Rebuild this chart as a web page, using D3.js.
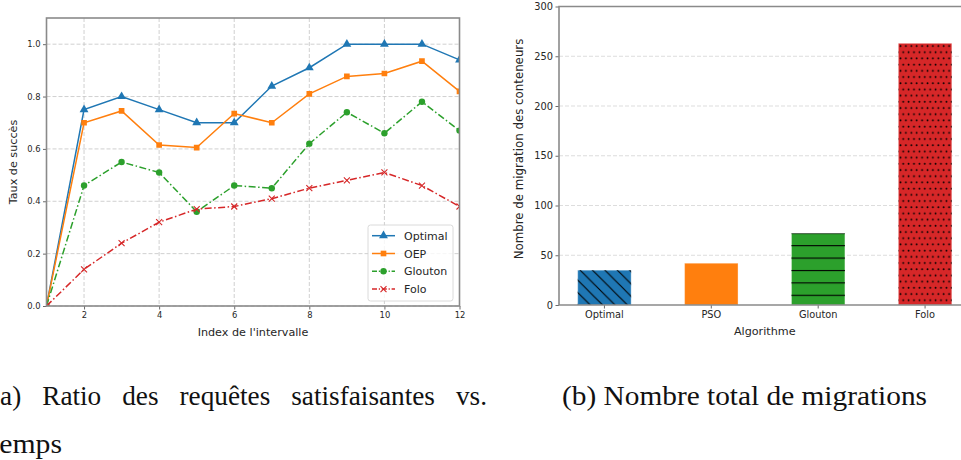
<!DOCTYPE html>
<html>
<head>
<meta charset="utf-8">
<script src="https://cdn.jsdelivr.net/npm/d3@7"></script>
<style>
  body { margin: 0; background: #fff; }
  svg { display: block; font-family: "DejaVu Sans", sans-serif; }
  .tick text { fill: #262626; }
</style>
</head>
<body>
<svg id="fig" width="961" height="460"></svg>
<script>
// data for (a) - success rate per interval
const intervals = [1, 2, 3, 4, 5, 6, 7, 8, 9, 10, 11, 12];
const optimal = [0, 0.75, 0.80, 0.75, 0.70, 0.70, 0.84, 0.91, 1.00, 1.00, 1.00, 0.94];
const oep     = [0, 0.70, 0.745, 0.615, 0.605, 0.735, 0.70, 0.81, 0.877, 0.888, 0.935, 0.82];
const glouton = [0, 0.46, 0.55, 0.51, 0.36, 0.46, 0.45, 0.62, 0.74, 0.66, 0.78, 0.67];
const folo    = [0, 0.14, 0.24, 0.32, 0.37, 0.38, 0.41, 0.45, 0.48, 0.51, 0.46, 0.38];
const xTicksA = [2, 4, 6, 8, 10, 12];
const yTicksA = [0, 0.2, 0.4, 0.6, 0.8, 1.0];

// data for (b) - total migrations
const algos = ["Optimal", "PSO", "Glouton", "Folo"];
const migrations = [35, 42, 72, 263];
const yTicksB = [0, 50, 100, 150, 200, 250, 300];

const svg = d3.select("#fig");
const spineColor = "#8a8a8a";
const gridColor = "#c4c4c4";

// ---------- chart (a) ----------
const A = {left: 46.5, right: 459.5, top: 18, bottom: 306};
const xA = d3.scaleLinear().domain([1, 12]).range([A.left, A.right]);
const yA = d3.scaleLinear().domain([0, 1.1]).range([A.bottom, A.top]);

const gA = svg.append("g");

// grid
gA.append("g").selectAll("line").data(xTicksA).join("line")
  .attr("x1", d => xA(d)).attr("x2", d => xA(d))
  .attr("y1", A.top).attr("y2", A.bottom)
  .attr("stroke", gridColor).attr("stroke-dasharray", "4,2").attr("stroke-width", 0.8);
gA.append("g").selectAll("line").data(yTicksA).join("line")
  .attr("x1", A.left).attr("x2", A.right)
  .attr("y1", d => yA(d)).attr("y2", d => yA(d))
  .attr("stroke", gridColor).attr("stroke-dasharray", "4,2").attr("stroke-width", 0.8);

const series = [
  {name: "Optimal", values: optimal, color: "#1f77b4", dash: null, marker: "triangle"},
  {name: "OEP", values: oep, color: "#ff7f0e", dash: null, marker: "square"},
  {name: "Glouton", values: glouton, color: "#2ca02c", dash: "7,2.5,1.5,2.5", marker: "circle"},
  {name: "Folo", values: folo, color: "#d62728", dash: "7,2.5,1.5,2.5", marker: "x"}
];

function drawMarker(g, type, color) {
  if (type === "triangle") {
    g.append("path").attr("d", d3.symbol(d3.symbolTriangle, 34)()).attr("fill", color);
  } else if (type === "square") {
    g.append("path").attr("d", d3.symbol(d3.symbolSquare, 32)()).attr("fill", color);
  } else if (type === "circle") {
    g.append("circle").attr("r", 3.2).attr("fill", color);
  } else {
    g.append("path").attr("d", "M-3,-3L3,3M-3,3L3,-3").attr("stroke", color)
      .attr("stroke-width", 1.1).attr("fill", "none");
  }
}

svg.append("clipPath").attr("id", "clipA").append("rect")
  .attr("x", A.left).attr("y", A.top).attr("width", A.right - A.left).attr("height", A.bottom - A.top);

const plotA = gA.append("g").attr("clip-path", "url(#clipA)");
const line = d3.line().x((d, i) => xA(intervals[i])).y(d => yA(d));

series.forEach(s => {
  plotA.append("path").datum(s.values)
    .attr("d", line).attr("fill", "none")
    .attr("stroke", s.color).attr("stroke-width", 1.5)
    .attr("stroke-dasharray", s.dash);
  s.values.forEach((v, i) => {
    const m = plotA.append("g").attr("transform", `translate(${xA(intervals[i])},${yA(v)})`);
    drawMarker(m, s.marker, s.color);
  });
});

// axes
const axA_x = gA.append("g").attr("transform", `translate(0,${A.bottom})`)
  .call(d3.axisBottom(xA).tickValues(xTicksA).tickFormat(d3.format("d")).tickSize(3.5).tickPadding(2.5));
const axA_y = gA.append("g").attr("transform", `translate(${A.left},0)`)
  .call(d3.axisLeft(yA).tickValues(yTicksA).tickFormat(d3.format(".1f")).tickSize(3.5).tickPadding(2.5));
[axA_x, axA_y].forEach(ax => {
  ax.select(".domain").remove();
  ax.selectAll(".tick line").attr("stroke", "#444").attr("stroke-width", 0.8);
  ax.selectAll(".tick text").attr("font-size", 8.4).attr("font-family", "DejaVu Sans");
});

gA.append("rect").attr("x", A.left).attr("y", A.top)
  .attr("width", A.right - A.left).attr("height", A.bottom - A.top)
  .attr("fill", "none").attr("stroke", spineColor).attr("stroke-width", 1.6);

gA.append("text").attr("x", (A.left + A.right) / 2).attr("y", 336)
  .attr("text-anchor", "middle").attr("font-size", 11.2).attr("fill", "#262626")
  .text("Index de l'intervalle");
gA.append("text").attr("transform", `translate(17,${(A.top + A.bottom) / 2}) rotate(-90)`)
  .attr("text-anchor", "middle").attr("font-size", 11.2).attr("fill", "#262626")
  .text("Taux de succès");

// legend
const leg = gA.append("g").attr("transform", "translate(368,225)");
leg.append("rect").attr("width", 85).attr("height", 76).attr("rx", 2.5)
  .attr("fill", "#fff").attr("fill-opacity", 0.8).attr("stroke", "#d0d0d0").attr("stroke-width", 0.8);
series.forEach((s, i) => {
  const row = leg.append("g").attr("transform", `translate(0,${10.7 + i * 17.8})`);
  row.append("line").attr("x1", 4).attr("x2", 27).attr("stroke", s.color)
    .attr("stroke-width", 1.5).attr("stroke-dasharray", s.dash ? "5,1.8,1.2,1.8" : null);
  const m = row.append("g").attr("transform", "translate(15.5,0)");
  drawMarker(m, s.marker, s.color);
  row.append("text").attr("x", 36).attr("y", 4).attr("font-size", 11)
    .attr("fill", "#262626").text(s.name);
});

// ---------- chart (b) ----------
const B = {left: 559, right: 970.5, top: 6.5, bottom: 305};
const xB = d3.scaleBand().domain(algos).range([B.left, B.right]).paddingInner(0.5).paddingOuter(0.175);
const yB = d3.scaleLinear().domain([0, 300]).range([B.bottom, B.top]);

const gB = svg.append("g");

// hatch patterns
const defs = svg.append("defs");
const hDiag = defs.append("pattern").attr("id", "hatchDiag").attr("patternUnits", "userSpaceOnUse")
  .attr("width", 12.4).attr("height", 12.4);
hDiag.append("path").attr("d", "M-3.1,9.3L3.1,15.5M0,0L12.4,12.4M9.3,-3.1L15.5,3.1")
  .attr("stroke", "#000").attr("stroke-width", 1.1);
const hHoriz = defs.append("pattern").attr("id", "hatchHoriz").attr("patternUnits", "userSpaceOnUse")
  .attr("width", 12.4).attr("height", 12.4);
hHoriz.append("line").attr("x1", 0).attr("x2", 12.4).attr("y1", 10.1).attr("y2", 10.1)
  .attr("stroke", "#000").attr("stroke-width", 1.1);
const hDots = defs.append("pattern").attr("id", "hatchDots").attr("patternUnits", "userSpaceOnUse")
  .attr("width", 5.4).attr("height", 12.4);
hDots.append("circle").attr("cx", 1.4).attr("cy", 2.6).attr("r", 0.9).attr("fill", "#000");
hDots.append("circle").attr("cx", 4.1).attr("cy", 8.8).attr("r", 0.9).attr("fill", "#000");

const barColors = ["#1f77b4", "#ff7f0e", "#2ca02c", "#d62728"];
const hatches = ["hatchDiag", null, "hatchHoriz", "hatchDots"];

// grid (horizontal only)
gB.append("g").selectAll("line").data(yTicksB.filter(d => d > 0 && d < 300)).join("line")
  .attr("x1", B.left).attr("x2", B.right)
  .attr("y1", d => yB(d)).attr("y2", d => yB(d))
  .attr("stroke", "#d4d4d4").attr("stroke-dasharray", "4,2").attr("stroke-width", 0.8);

const bars = gB.append("g").selectAll("g").data(algos).join("g");
bars.append("rect")
  .attr("x", d => xB(d)).attr("width", xB.bandwidth())
  .attr("y", (d, i) => yB(migrations[i])).attr("height", (d, i) => yB(0) - yB(migrations[i]))
  .attr("fill", (d, i) => barColors[i])
  .attr("stroke", "#fff").attr("stroke-opacity", 0.35).attr("stroke-width", 1);
bars.filter((d, i) => hatches[i]).append("rect")
  .attr("x", d => xB(d)).attr("width", xB.bandwidth())
  .attr("y", d => yB(migrations[algos.indexOf(d)]))
  .attr("height", d => yB(0) - yB(migrations[algos.indexOf(d)]))
  .attr("fill", d => `url(#${hatches[algos.indexOf(d)]})`);

const axB_x = gB.append("g").attr("transform", `translate(0,${B.bottom})`)
  .call(d3.axisBottom(xB).tickSize(3.5).tickPadding(2.5));
const axB_y = gB.append("g").attr("transform", `translate(${B.left},0)`)
  .call(d3.axisLeft(yB).tickValues(yTicksB).tickSize(3.5).tickPadding(2.5));
[axB_x, axB_y].forEach(ax => {
  ax.select(".domain").remove();
  ax.selectAll(".tick line").attr("stroke", "#444").attr("stroke-width", 0.8);
  ax.selectAll(".tick text").attr("font-size", 9.8).attr("font-family", "DejaVu Sans");
});

gB.append("path")
  .attr("d", `M${B.right},${B.top}H${B.left}V${B.bottom}H${B.right}`)
  .attr("fill", "none").attr("stroke", spineColor).attr("stroke-width", 1.6);

gB.append("text").attr("x", (B.left + B.right) / 2).attr("y", 335)
  .attr("text-anchor", "middle").attr("font-size", 11.2).attr("fill", "#262626")
  .text("Algorithme");
gB.append("text").attr("transform", "translate(523,149) rotate(-90)")
  .attr("text-anchor", "middle").attr("font-size", 11.8).attr("fill", "#262626")
  .text("Nombre de migration des conteneurs");

// ---------- captions ----------
const capFont = "'Liberation Serif', 'DejaVu Serif', serif";
const capA = ["(a)", "Ratio", "des", "requêtes", "satisfaisantes", "vs."];
const capStart = -9, capEnd = 487, capGap = 21;
const capG = svg.append("g").attr("font-family", capFont).attr("font-size", 27).attr("fill", "#111");
// justify the words of the first line across the column
const tmp = capA.map(w => capG.append("text").attr("y", 405).text(w));
const widths = tmp.map(t => t.node().getComputedTextLength());
const scale = (capEnd - capStart - capGap * (capA.length - 1)) / d3.sum(widths);
let cx = capStart;
tmp.forEach((t, i) => {
  t.attr("x", cx).attr("textLength", widths[i] * scale).attr("lengthAdjust", "spacingAndGlyphs");
  cx += widths[i] * scale + capGap;
});
capG.append("text").attr("x", -9).attr("y", 453).text("temps")
  .attr("textLength", 71).attr("lengthAdjust", "spacingAndGlyphs");
capG.append("text").attr("x", 562).attr("y", 405).text("(b) Nombre total de migrations")
  .attr("textLength", 365).attr("lengthAdjust", "spacingAndGlyphs");
</script>
</body>
</html>
